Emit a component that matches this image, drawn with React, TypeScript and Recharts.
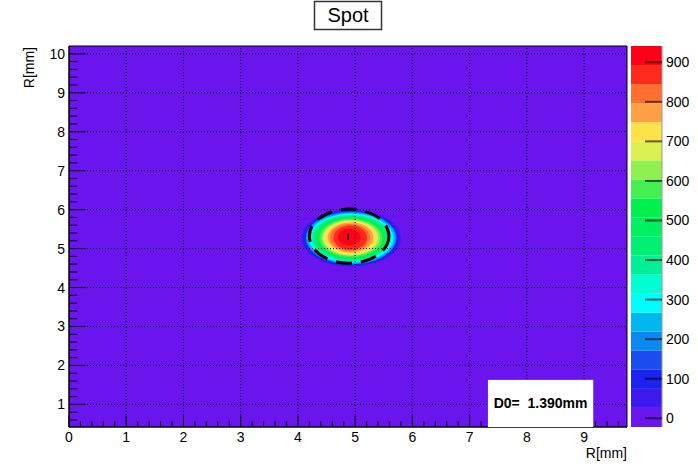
import React from 'react';
import { ScatterChart, Scatter, XAxis, YAxis, ReferenceArea, ReferenceLine } from 'recharts';

const FONT = '"Liberation Sans", Arial, Helvetica, sans-serif';

// palette levels, bottom (lowest) to top
const levelColors = [
  '#6a14ee', '#3c1aef', '#1c22ef', '#1a4cef', '#0a8af0',
  '#00b8f0', '#00fdfd', '#00ffd2', '#00f09a', '#00f074',
  '#00f060', '#00f04e', '#44f050', '#90f050', '#dcf050',
  '#ffe24a', '#ffa044', '#ff7030', '#ff2a1c', '#ff0018',
];
const levelEdges = [
  -22, 26.2, 74.3, 122.5, 170.6, 218.8, 266.9, 315.1, 363.2, 411.4, 459.5,
  507.7, 555.8, 604, 652.1, 700.3, 748.4, 796.6, 844.7, 892.9, 941,
];
const zTicks = [0, 100, 200, 300, 400, 500, 600, 700, 800, 900];

const xDomain = [0, 9.75];
const yDomain = [0.42, 10.2];
const xMajorTicks = [0, 1, 2, 3, 4, 5, 6, 7, 8, 9];
const yMajorTicks = [1, 2, 3, 4, 5, 6, 7, 8, 9, 10];

// outline of the spot for levels 2..20 (mm)
const spotLeft = [4.06, 4.09, 4.13, 4.14, 4.16, 4.19, 4.22, 4.25, 4.27, 4.3, 4.34, 4.37, 4.41, 4.44, 4.48, 4.52, 4.56, 4.62, 4.7];
const spotRight = [5.8, 5.77, 5.73, 5.72, 5.7, 5.67, 5.64, 5.61, 5.59, 5.56, 5.52, 5.48, 5.44, 5.4, 5.37, 5.32, 5.26, 5.21, 5.09];
const spotBottom = [4.54, 4.56, 4.59, 4.6, 4.62, 4.64, 4.67, 4.69, 4.71, 4.73, 4.76, 4.78, 4.81, 4.83, 4.86, 4.9, 4.94, 4.97, 5.08];
const spotTop = [6.0, 5.97, 5.95, 5.94, 5.92, 5.9, 5.87, 5.86, 5.83, 5.82, 5.8, 5.77, 5.74, 5.72, 5.69, 5.67, 5.63, 5.59, 5.51];

// fitted circle
const fitCenter = { x: 4.895, y: 5.32 };
const d0 = 1.39;
const peakMark = [{ x: 4.88, y: 5.3 }];

// D0 label box
const boxX = [7.32, 9.16];
const boxY = [0.42, 1.63];
const d0Text = 'D0=  1.390mm';

const minorTicks = (lo: number, hi: number) => {
  const out: number[] = [];
  for (let i = 0; i <= 60; i++) {
    const v = +(i * 0.2).toFixed(1);
    if (v >= lo && v <= hi) out.push(v);
  }
  return out;
};
const xTicks = minorTicks(xDomain[0], xDomain[1]);
const yTicks = minorTicks(yDomain[0], 10);

const isMajor = (v: number) => Math.abs(v - Math.round(v)) < 1e-6;

const XTick = (props: any) => {
  const { x, y, payload } = props;
  const v = payload.value;
  const major = isMajor(v);
  return (
    <g>
      <line x1={x} x2={x} y1={y} y2={y - (major ? 11.4 : 5.7)} stroke="#000" />
      {major && (
        <text x={x} y={y + 15} textAnchor="middle" fontSize={14} fontFamily={FONT} fill="#000">
          {Math.round(v)}
        </text>
      )}
    </g>
  );
};

const YTick = (props: any) => {
  const { x, y, payload } = props;
  const v = payload.value;
  const major = isMajor(v);
  return (
    <g>
      <line x1={x} x2={x + (major ? 16.7 : 8.4)} y1={y} y2={y} stroke="#000" />
      {major && (
        <text x={x - 4} y={y + 5} textAnchor="end" fontSize={14} fontFamily={FONT} fill="#000">
          {Math.round(v)}
        </text>
      )}
    </g>
  );
};

const ZTick = (props: any) => {
  const { x, y, payload } = props;
  return (
    <g>
      <line x1={x - 17} x2={x} y1={y} y2={y} stroke="#000" strokeOpacity={0.6} strokeWidth={2} />
      <text x={x + 4} y={y + 5} textAnchor="start" fontSize={14} fontFamily={FONT} fill="#000">
        {payload.value}
      </text>
    </g>
  );
};

const ellipse = (fill: string, stroke?: string) => (p: any) => (
  <ellipse
    cx={p.x + p.width / 2}
    cy={p.y + p.height / 2}
    rx={Math.abs(p.width) / 2}
    ry={Math.abs(p.height) / 2}
    fill={fill}
    stroke={stroke || 'none'}
    strokeWidth={stroke ? 3 : 0}
    strokeDasharray={stroke ? '16 9' : undefined}
  />
);

const d0Box = (p: any) => (
  <g>
    <rect x={p.x} y={p.y} width={p.width} height={p.height} fill="#fff" />
    <text
      x={p.x + p.width / 2}
      y={p.y + p.height / 2 + 5}
      textAnchor="middle"
      fontSize={14}
      fontWeight="bold"
      fontFamily={FONT}
      style={{ whiteSpace: 'pre' }}
      fill="#000"
    >
      {d0Text}
    </text>
  </g>
);

export default function App() {
  const r = d0 / 2;
  return (
    <div style={{ position: 'absolute', left: 0, top: 0, width: 698, height: 475, background: '#fff' }}>
      <div style={{ position: 'absolute', left: 0, top: 0 }}>
        <ScatterChart width={698} height={475} margin={{ top: 46, right: 71, bottom: 0, left: 0 }}>
          <XAxis
            dataKey="x"
            type="number"
            domain={xDomain}
            allowDataOverflow
            ticks={xTicks}
            interval={0}
            tickSize={0}
            tickMargin={0}
            tick={<XTick />}
            axisLine={{ stroke: '#000' }}
            height={48}
          />
          <YAxis
            dataKey="y"
            type="number"
            domain={yDomain}
            allowDataOverflow
            ticks={yTicks}
            interval={0}
            tickSize={0}
            tickMargin={0}
            tick={<YTick />}
            axisLine={{ stroke: '#000' }}
            width={69}
          />
          <ReferenceArea
            x1={xDomain[0]}
            x2={xDomain[1]}
            y1={yDomain[0]}
            y2={yDomain[1]}
            fill={levelColors[0]}
            fillOpacity={1}
            stroke="#000"
            zIndex={10}
          />
          {spotLeft.map((_, i) => (
            <ReferenceArea
              key={'b' + i}
              x1={spotLeft[i]}
              x2={spotRight[i]}
              y1={spotBottom[i]}
              y2={spotTop[i]}
              shape={ellipse(levelColors[i + 1])}
              zIndex={20}
            />
          ))}
          {xMajorTicks.slice(1).map((v) => (
            <ReferenceLine key={'gx' + v} x={v} stroke="#000" strokeDasharray="1 2" zIndex={30} />
          ))}
          {yMajorTicks.map((v) => (
            <ReferenceLine key={'gy' + v} y={v} stroke="#000" strokeDasharray="1 2" zIndex={30} />
          ))}
          <ReferenceArea
            x1={fitCenter.x - r}
            x2={fitCenter.x + r}
            y1={fitCenter.y - r}
            y2={fitCenter.y + r}
            shape={ellipse('none', '#000')}
            zIndex={40}
          />
          <Scatter
            data={peakMark}
            isAnimationActive={false}
            zIndex={45}
            shape={(p: any) => (
              <line x1={p.cx} x2={p.cx} y1={p.cy - 3} y2={p.cy + 3} stroke="#000" strokeWidth={1.5} />
            )}
          />
          <ReferenceArea x1={boxX[0]} x2={boxX[1]} y1={boxY[0]} y2={boxY[1]} shape={d0Box} zIndex={3000} />
        </ScatterChart>
      </div>
      <div style={{ position: 'absolute', left: 631, top: 0 }}>
        <ScatterChart width={67} height={475} margin={{ top: 46, right: 0, bottom: 48, left: 0 }}>
          <XAxis dataKey="x" type="number" domain={[0, 1]} allowDataOverflow hide />
          <YAxis
            dataKey="z"
            type="number"
            orientation="right"
            domain={[levelEdges[0], levelEdges[levelEdges.length - 1]]}
            allowDataOverflow
            ticks={zTicks}
            interval={0}
            tickSize={0}
            tickMargin={0}
            tick={<ZTick />}
            axisLine={{ stroke: '#999' }}
            width={36}
          />
          {levelColors.map((c, i) => (
            <ReferenceArea
              key={'z' + i}
              x1={0}
              x2={1}
              y1={levelEdges[i]}
              y2={levelEdges[i + 1]}
              ifOverflow="visible"
              fill={c}
              fillOpacity={1}
              stroke="none"
              zIndex={10}
            />
          ))}
        </ScatterChart>
      </div>
      <svg width={698} height={475} style={{ position: 'absolute', left: 0, top: 0 }}>
        <rect x={314.5} y={1.5} width={67} height={28} fill="#fff" stroke="#333" strokeWidth={1.5} />
        <text x={348} y={22} textAnchor="middle" fontSize={20} fontFamily={FONT} fill="#000">
          Spot
        </text>
        <text x={627} y={458} textAnchor="end" fontSize={14} fontFamily={FONT} fill="#000">
          R[mm]
        </text>
        <text x={34} y={47} textAnchor="end" fontSize={14} fontFamily={FONT} fill="#000" transform="rotate(-90 34 47)">
          R[mm]
        </text>
      </svg>
    </div>
  );
}
